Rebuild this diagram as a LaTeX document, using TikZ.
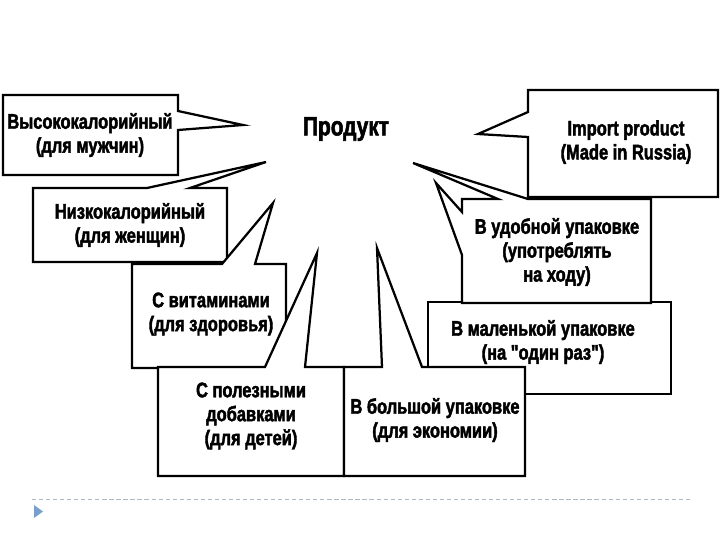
\documentclass[tikz,border=0pt]{standalone}
\usepackage{fontspec}
\setmainfont{Liberation Sans}[Ligatures=TeXOff, FakeStretch=0.78, BoldFeatures={FakeBold=2}]
\usepackage{tikz}
\definecolor{slidegray}{RGB}{175,185,195}
\definecolor{bulletblue}{RGB}{120,160,200}

\begin{document}
\begin{tikzpicture}[
    x=0.025cm, y=-0.025cm,
    every node/.style={font=\bfseries\fontsize{15}{17}\selectfont},
    callout/.style={draw=black, fill=white, line width=1.6pt, line join=miter},
    label/.style={align=center, inner sep=0pt}
]
\useasboundingbox (0,0) rectangle (720,540);

\draw[callout] (3,95) -- (178,95) -- (178,111) -- (243,125) -- (178,130) -- (178,175) -- (3,175) -- cycle;
\draw[callout] (33,188) -- (147,188) -- (266,162) -- (190,188) -- (227,188) -- (227,262) -- (33,262) -- cycle;
\draw[callout] (132,264) -- (222,264) -- (273,203) -- (255,264) -- (286,264) -- (286,368) -- (132,368) -- cycle;
\draw[callout] (158,367) -- (265,367) -- (317,253) -- (305,367) -- (344,367) -- (344,476) -- (158,476) -- cycle;
\draw[callout] (428,302) -- (671,302) -- (671,394) -- (428,394) -- cycle;
\draw[callout] (344,367) -- (382,367) -- (377,248) -- (422,367) -- (525,367) -- (525,476) -- (344,476) -- cycle;
\draw[callout] (462,199) -- (498,199) -- (413,163) -- (528,199) -- (651,199) -- (651,303) -- (462,303) -- (462,255) -- (436,183) -- (462,212) -- cycle;
\draw[callout] (528,90) -- (718,90) -- (718,197) -- (528,197) -- (528,137) -- (478,134) -- (528,112) -- cycle;

\node[label, font=\bfseries\fontsize{19}{20}\selectfont] (product) at (346,129) {Продукт};
\node[label] (high) at (90,135) {Высококалорийный\\(для мужчин)};
\node[label] (low) at (130,225) {Низкокалорийный\\(для женщин)};
\node[label] (vitamins) at (211,314) {С витаминами\\(для здоровья)};
\node[label] (additives) at (251,416) {С полезными\\добавками\\(для детей)};
\node[label] (big) at (435,420) {В большой упаковке\\(для экономии)};
\node[label] (small) at (543,342) {В маленькой упаковке\\(на "один раз")};
\node[label] (handy) at (557,252) {В удобной упаковке\\(употреблять\\на ходу)};
\node[label] (import) at (626,142) {Import product\\(Made in Russia)};

\draw[slidegray, densely dashed, line width=0.6pt] (32,499) -- (690,499);
\fill[bulletblue] (34,505) -- (43,511.5) -- (34,518) -- cycle;

\end{tikzpicture}
\end{document}
